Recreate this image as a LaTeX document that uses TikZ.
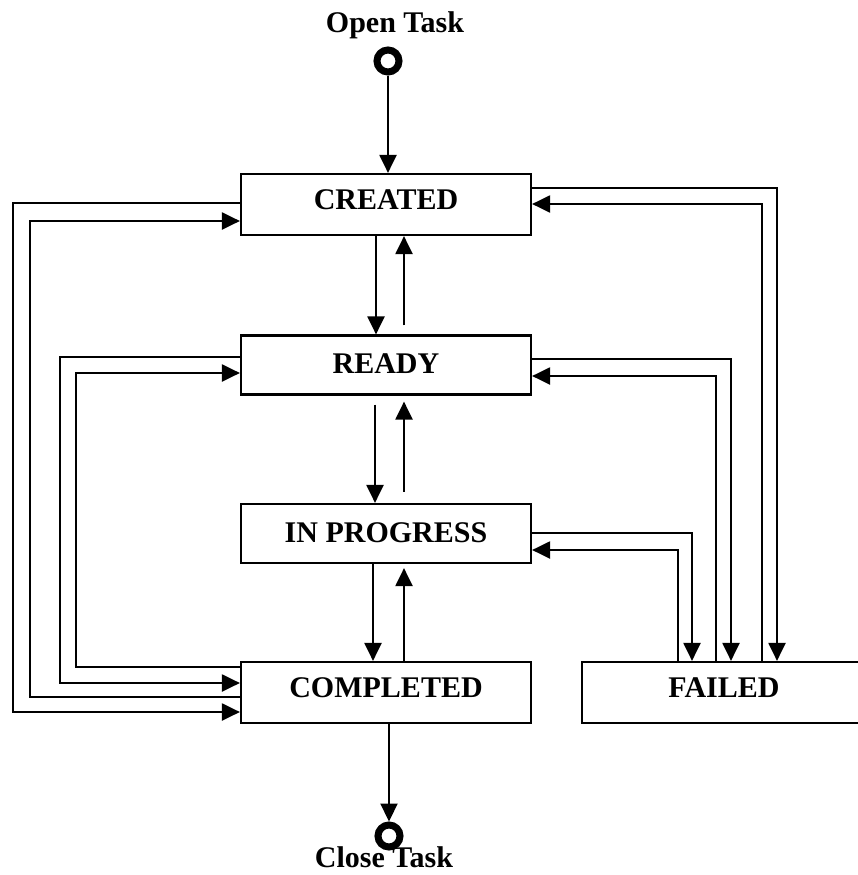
\documentclass[tikz,border=0pt]{standalone}
\usepackage{fontspec}
\setmainfont{Liberation Serif}
\usetikzlibrary{arrows.meta}
\begin{document}
\begin{tikzpicture}[x=1pt,y=-1pt,
  state/.style={draw, line width=2.2pt, rectangle, minimum width=290pt, inner sep=0pt,
    font=\fontsize{30}{36}\selectfont\bfseries},
  conn/.style={line width=2.2pt, -{Triangle[length=18pt,width=17pt]}},
  term/.style={circle, draw, line width=7pt, minimum size=22pt, inner sep=0pt},
  lbl/.style={font=\fontsize{30}{36}\selectfont\bfseries, inner sep=0pt}]
\useasboundingbox (0,0) rectangle (858,875);

% states
\node[state, minimum height=61pt, text depth=9pt] (created) at (386,204.5) {CREATED};
\node[state, minimum height=59pt, text depth=3pt] (ready) at (386,365) {READY};
\node[state, minimum height=59pt, text depth=2pt] (inprog) at (386,533.5) {IN PROGRESS};
\node[state, minimum height=61pt, text depth=10pt] (completed) at (386,692.5) {COMPLETED};
\node[state, minimum width=284pt, minimum height=61pt, text depth=10pt] (failed) at (724,692.5) {FAILED};

% terminals
\node[term] (open) at (388,61) {};
\node[term] (close) at (389,836) {};
\node[lbl, anchor=base] (opentxt) at (395,33) {Open Task};
\node[lbl, anchor=base] (closetxt) at (384,867) {Close Task};

\draw[conn] (open) -- (open |- created.north);
\draw[conn] (completed.south -| close) -- (close);

% central vertical arrows
\draw[conn] (created.south -| 376,0) -- (ready.north -| 376,0);
\draw[conn, shorten <=9pt] (ready.north -| 404,0) -- (created.south -| 404,0);
\draw[conn, shorten <=9pt] (ready.south -| 375,0) -- (inprog.north -| 375,0);
\draw[conn, shorten <=11pt, shorten >=6pt] (inprog.north -| 404,0) -- (ready.south -| 404,0);
\draw[conn] (inprog.south -| 373,0) -- (completed.north -| 373,0);
\draw[conn, shorten >=4pt] (completed.north -| 404,0) -- (inprog.south -| 404,0);

% left loops
\draw[conn] (created.west |- 0,203) -- (13,203) -- (13,712) -- (completed.west |- 0,712);
\draw[conn] (completed.west |- 0,697) -- (30,697) -- (30,221) -- (created.west |- 0,221);
\draw[conn] (ready.west |- 0,357) -- (60,357) -- (60,683) -- (completed.west |- 0,683);
\draw[conn] (completed.west |- 0,667) -- (76,667) -- (76,373) -- (ready.west |- 0,373);

% right loops
\draw[conn] (created.east |- 0,188) -- (777,188) -- (failed.north -| 777,0);
\draw[conn] (failed.north -| 762,0) -- (762,204) -- (created.east |- 0,204);
\draw[conn] (ready.east |- 0,359) -- (731,359) -- (failed.north -| 731,0);
\draw[conn] (failed.north -| 716,0) -- (716,376) -- (ready.east |- 0,376);
\draw[conn] (inprog.east |- 0,533) -- (692,533) -- (failed.north -| 692,0);
\draw[conn] (failed.north -| 678,0) -- (678,550) -- (inprog.east |- 0,550);
\end{tikzpicture}
\end{document}
